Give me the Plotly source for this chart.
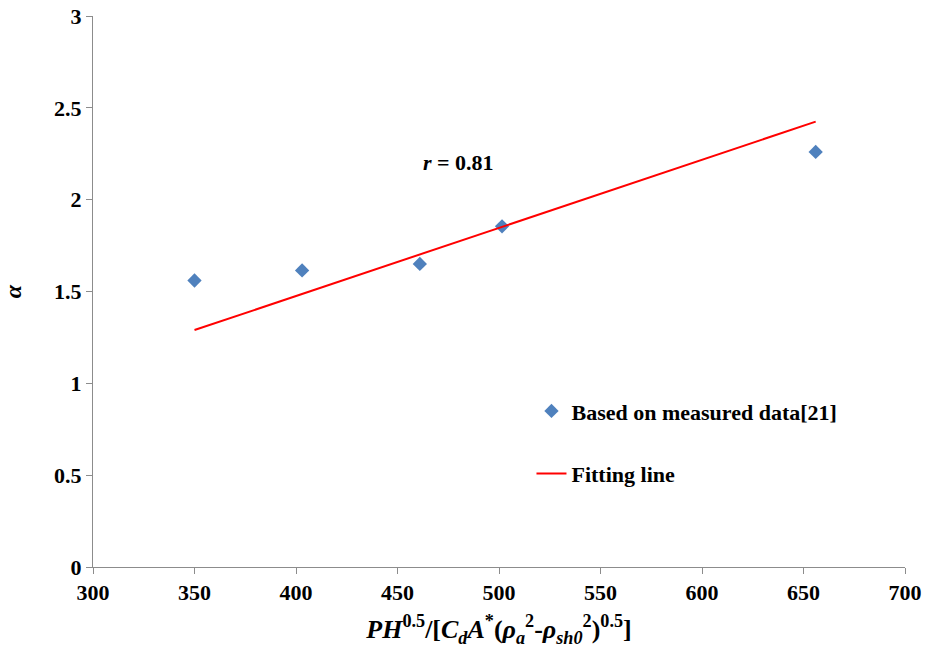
import plotly.graph_objects as go

# Data
meas_x = [350, 403, 461, 501.5, 656]
meas_y = [1.56, 1.615, 1.65, 1.855, 2.26]
fit_x = [350, 656]
fit_y = [1.29, 2.425]
x_ticks = [300, 350, 400, 450, 500, 550, 600, 650, 700]
y_ticks = [0, 0.5, 1, 1.5, 2, 2.5, 3]

FONT = "Liberation Serif, Times New Roman, serif"

fig = go.Figure()
fig.add_trace(go.Scatter(
    x=meas_x, y=meas_y, mode="markers", name="<b>Based on measured data[21]</b>",
    marker=dict(symbol="diamond", size=11, color="#4F81BD"),
    legendgroup="a",
))
fig.add_trace(go.Scatter(
    x=fit_x, y=fit_y, mode="lines", name="<b>Fitting line</b>",
    line=dict(color="#FF0000", width=2),
    legendgroup="b",
))

fig.add_annotation(
    x=480, y=2.2, xref="x", yref="y", showarrow=False,
    text="<b><i>r</i> = 0.81</b>", font=dict(family=FONT, size=22, color="black"),
)

axis_common = dict(
    showgrid=False, zeroline=False, showline=True, linecolor="#8c8c8c", linewidth=1,
    ticks="outside", tickcolor="#8c8c8c", ticklen=6, tickwidth=1,
    tickfont=dict(family=FONT, size=22, color="black"), automargin=False,
)

fig.update_layout(
    width=927, height=651,
    margin=dict(l=93, r=22, t=16, b=84),
    paper_bgcolor="white", plot_bgcolor="white",
    font=dict(family=FONT, color="black"),
    xaxis=dict(
        range=[300, 700], tickvals=x_ticks, ticktext=[f"<b>{v}</b>" for v in x_ticks],
        title=dict(
            text="<b><i>PH</i><sup>0.5</sup>/[<i>C<sub>d</sub>A</i><sup>*</sup>(<i>ρ<sub>a</sub></i><sup>2</sup>-<i>ρ<sub>sh0</sub></i><sup>2</sup>)<sup>0.5</sup>]</b>",
            font=dict(family=FONT, size=26, color="black"), standoff=15,
        ),
        **axis_common,
    ),
    yaxis=dict(
        range=[0, 3], tickvals=y_ticks, ticktext=[f"<b>{v:g}</b>" for v in y_ticks],
        title=dict(text="<b><i>α</i></b>", font=dict(family=FONT, size=24, color="black"), standoff=25),
        **axis_common,
    ),
    legend=dict(
        x=0.54, y=0.321, xanchor="left", yanchor="top",
        font=dict(family=FONT, size=22, color="black"),
        bgcolor="rgba(0,0,0,0)", tracegroupgap=31, traceorder="grouped",
    ),
)

fig.write_html("out.html")
